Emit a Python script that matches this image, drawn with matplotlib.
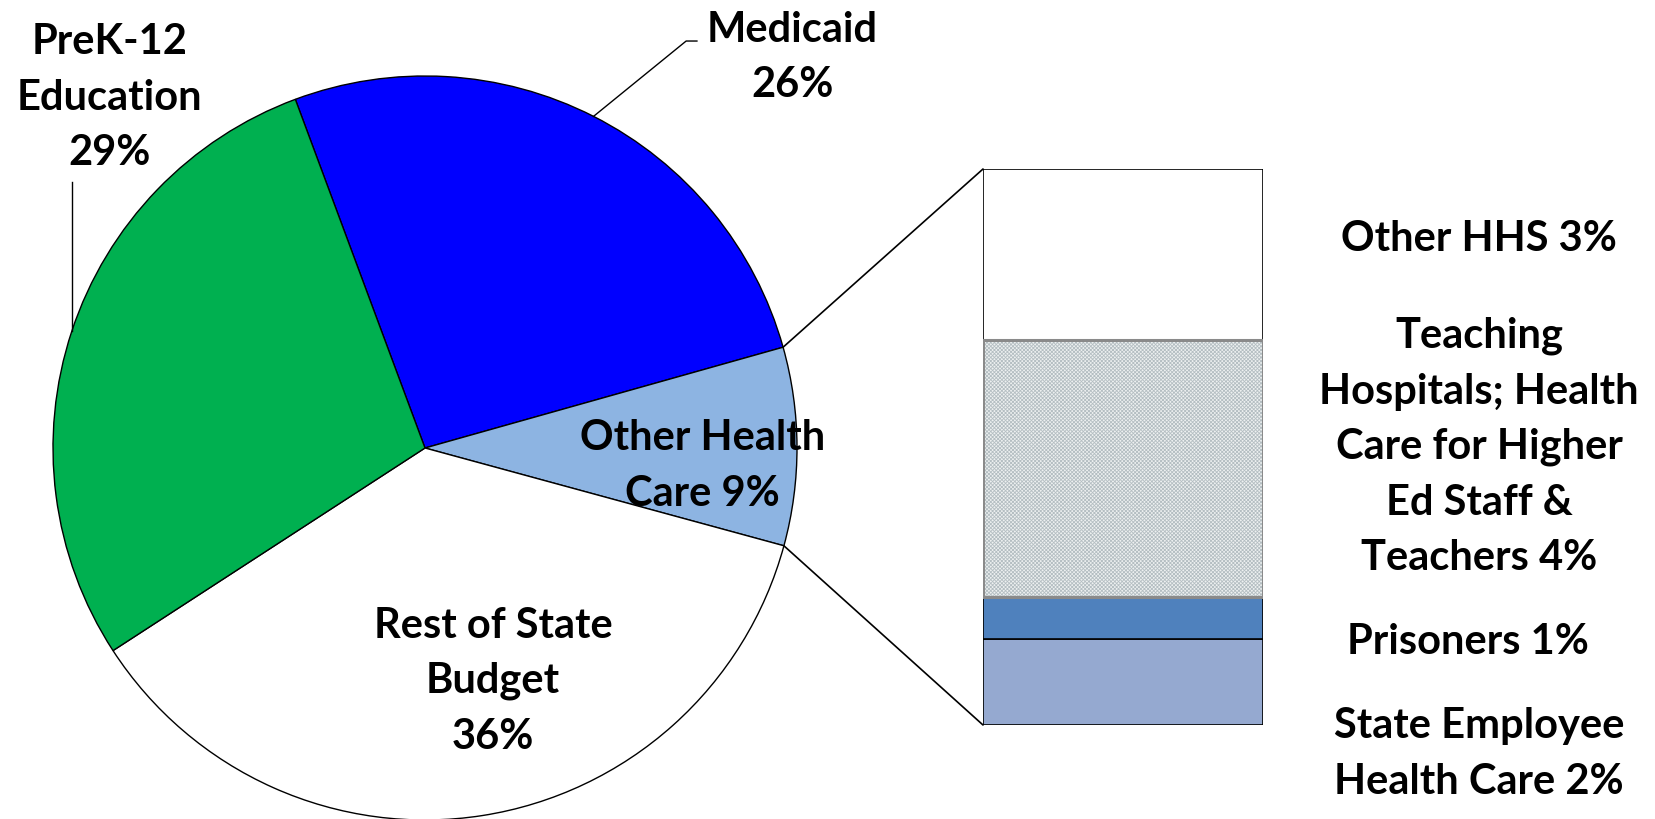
import numpy as np
import matplotlib
matplotlib.use("Agg")
from matplotlib import pyplot as plt
from matplotlib.patches import ConnectionPatch

plt.rcParams["font.family"] = ["Lato", "DejaVu Sans"]
plt.rcParams["font.weight"] = "bold"
plt.rcParams["hatch.linewidth"] = 0.6
plt.rcParams["hatch.color"] = "#B4BEC2"

# pie: share of state budget (%)
pie_labels = ["Medicaid\n26%", "Other Health\nCare 9%", "Rest of State\nBudget\n36%",
              "PreK-12\nEducation\n29%"]
pie_values = [26.3, 8.6, 36.6, 28.5]
pie_colors = ["#0000FF", "#8DB4E2", "#FFFFFF", "#00B050"]

# breakdown of "Other Health Care", bottom to top
bar_labels = ["State Employee\nHealth Care 2%", "Prisoners 1%",
              "Teaching\nHospitals; Health\nCare for Higher\nEd Staff &\nTeachers 4%",
              "Other HHS 3%"]
bar_values = [1.4, 0.7, 4.2, 2.8]
bar_colors = ["#95A9D0", "#4F81BD", "#EEF1F1", "#FFFFFF"]

W, H = 1656, 820
fig = plt.figure(figsize=(W / 100, H / 100), dpi=100)

# pie axes: centre (425, 449) px, radius 372 px
cx, cy, R = 425, 449, 372
ax = fig.add_axes([(cx - R) / W, (H - cy - R) / H, 2 * R / W, 2 * R / H])
start = 110.4
wedges, _ = ax.pie(pie_values, colors=pie_colors, startangle=start, counterclock=False,
                   wedgeprops=dict(edgecolor="black", linewidth=1.0))
ax.set_xlim(-1, 1)
ax.set_ylim(-1, 1)
ax.axis("off")

fs = 30
ls = 1.56
total = sum(pie_values)
ax.text(0.987, 1.052, pie_labels[0], ha="center", va="center", fontsize=fs,
        linespacing=ls, clip_on=False)
ax.text(0.745, -0.046, pie_labels[1], ha="center", va="center", fontsize=fs,
        linespacing=ls)
ax.text(0.183, -0.624, pie_labels[2], ha="center", va="center", fontsize=fs,
        linespacing=ls)
ax.text(-0.847, 0.944, pie_labels[3], ha="center", va="center", fontsize=fs,
        linespacing=ls, clip_on=False)

# leader lines from wedge middles
th = np.deg2rad(start - 360 * pie_values[0] / total / 2)
ax.plot([np.cos(th), 0.702, 0.731], [np.sin(th), 1.094, 1.094], color="black",
        lw=1.0, clip_on=False)
th = np.deg2rad(start + 360 * pie_values[3] / total / 2)
ax.plot([np.cos(th), np.cos(th)], [np.sin(th), 0.715], color="black", lw=1.0,
        clip_on=False)

# stacked bar
bx0, bx1, by0, by1 = 983, 1263, 170, 726
bax = fig.add_axes([bx0 / W, (H - by1) / H, (bx1 - bx0) / W, (by1 - by0) / H])
bottom = 0
for i, v in enumerate(bar_values):
    if i == 2:
        # fine textured fill, then a grey outline on top
        bax.bar(0, v, width=1, bottom=bottom, color=bar_colors[i],
                edgecolor="#B4BEC2", linewidth=0, hatch="xxxxxxxxx")
        bax.bar(0, v, width=1, bottom=bottom, color="none", edgecolor="#8A8A8A",
                linewidth=2.2, zorder=3)
    else:
        bax.bar(0, v, width=1, bottom=bottom, color=bar_colors[i], edgecolor="black",
                linewidth=1.2)
    bottom += v
btotal = sum(bar_values)
bax.set_xlim(-0.5, 0.5)
bax.set_ylim(0, btotal)
bax.axis("off")

# bar labels
lx = 1479
fig.text(lx / W, 1 - 754 / H, bar_labels[0], ha="center", va="center", fontsize=fs,
         linespacing=ls)
fig.text(1468 / W, 1 - 642 / H, bar_labels[1], ha="center", va="center", fontsize=fs,
         linespacing=ls)
fig.text(lx / W, 1 - 447 / H, bar_labels[2], ha="center", va="center", fontsize=fs,
         linespacing=ls)
fig.text(lx / W, 1 - 239 / H, bar_labels[3], ha="center", va="center", fontsize=fs,
         linespacing=ls)

# zoom lines from the "Other Health Care" wedge to the bar
t1 = np.deg2rad(start - 360 * pie_values[0] / total)
t2 = np.deg2rad(start - 360 * (pie_values[0] + pie_values[1]) / total)
for t, yb in [(t1, btotal), (t2, 0)]:
    con = ConnectionPatch(xyA=(np.cos(t), np.sin(t)), coordsA=ax.transData,
                          xyB=(-0.5, yb), coordsB=bax.transData,
                          color="black", lw=1.2)
    fig.add_artist(con)

fig.savefig("out.png", dpi=100)
